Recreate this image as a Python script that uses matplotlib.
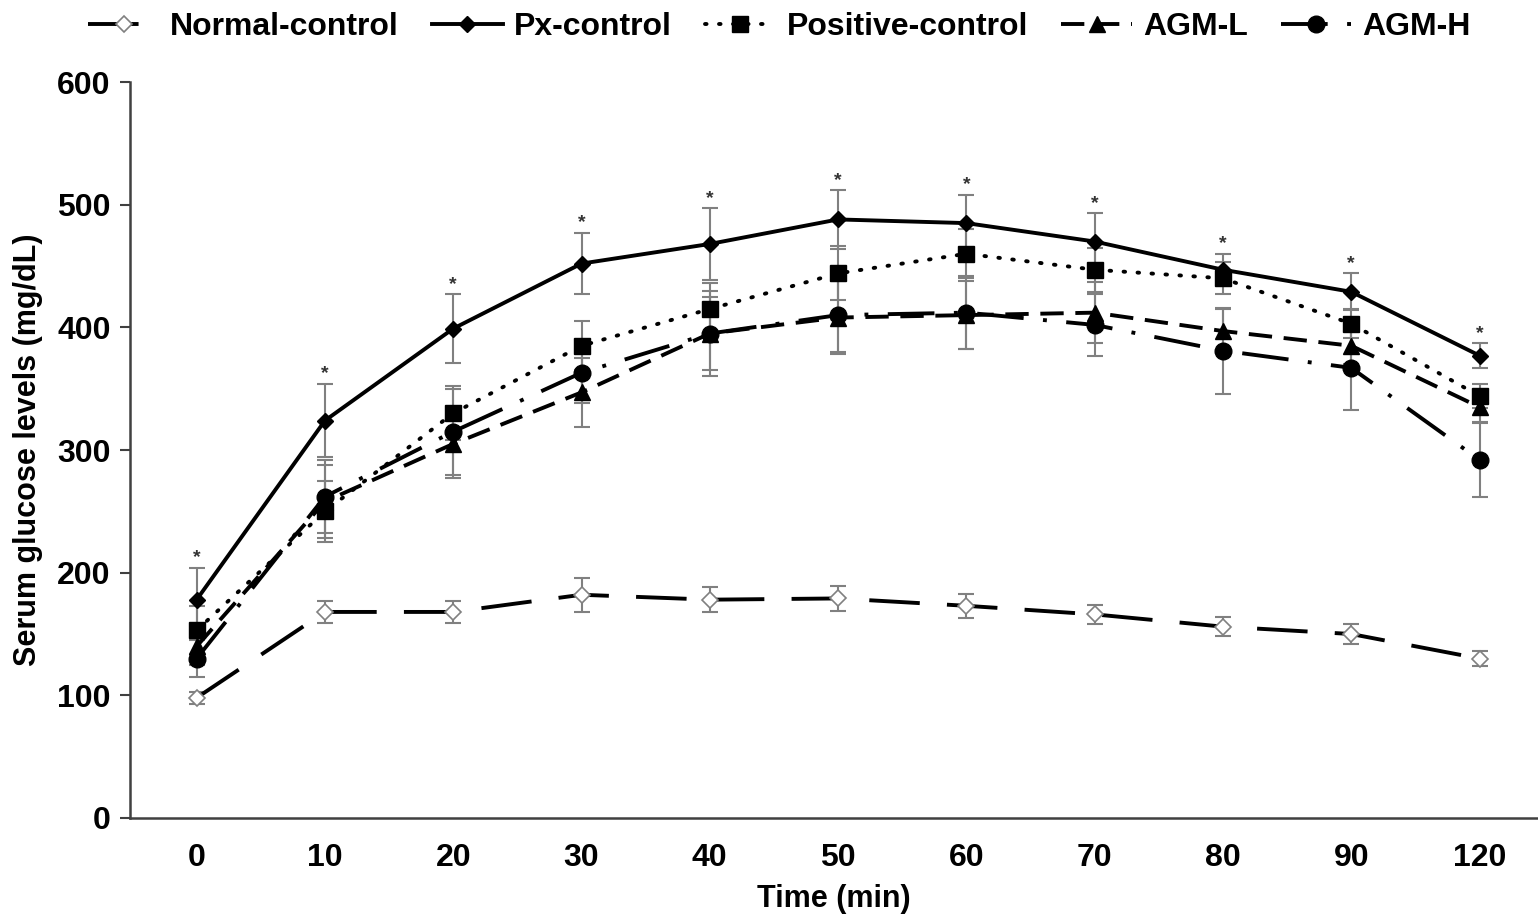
import numpy as np
import matplotlib.pyplot as plt

plt.rcParams['font.family'] = ['Liberation Sans', 'DejaVu Sans']
plt.rcParams['font.weight'] = 'bold'

time_labels = ['0', '10', '20', '30', '40', '50', '60', '70', '80', '90', '120']

normal = [98, 168, 168, 182, 178, 179, 173, 166, 156, 150, 130]
normal_err = [5, 9, 9, 14, 10, 10, 10, 8, 8, 8, 6]

px = [178, 324, 399, 452, 468, 488, 485, 470, 447, 429, 377]
px_err = [26, 30, 28, 25, 29, 24, 23, 23, 13, 15, 10]

pos = [153, 250, 330, 385, 415, 444, 460, 447, 440, 403, 344]
pos_err = [20, 25, 22, 20, 21, 22, 20, 18, 13, 12, 10]

agml = [140, 258, 305, 347, 395, 408, 410, 412, 397, 385, 335]
agml_err = [15, 30, 28, 28, 35, 30, 28, 25, 18, 15, 12]

agmh = [130, 262, 315, 363, 395, 410, 412, 402, 381, 367, 292]
agmh_err = [15, 30, 35, 25, 30, 30, 30, 25, 35, 34, 30]

x = np.arange(len(time_labels))

fig = plt.figure(figsize=(15.38, 9.22), dpi=100)
ax = fig.add_axes([0.0845, 0.1128, 0.915, 0.7982])

err_kw = dict(ecolor='#808080', elinewidth=1.5, capsize=6, capthick=1.5)

series = [
    ('Normal-control', normal, normal_err,
     dict(ls=(0, (13, 7)), marker='D', ms=8, mfc='white', mec='#808080', mew=1.2)),
    ('Px-control', px, px_err,
     dict(ls='-', marker='D', ms=8, mfc='black', mec='black')),
    ('Positive-control', pos, pos_err,
     dict(ls=(0, (0.4, 3.2)), dash_capstyle='round', marker='s', ms=12,
          mfc='black', mec='black')),
    ('AGM-L', agml, agml_err,
     dict(ls=(0, (6, 3)), marker='^', ms=11, mfc='black', mec='black')),
    ('AGM-H', agmh, agmh_err,
     dict(ls=(0, (12, 5, 1, 5)), marker='o', ms=12, mfc='black', mec='black')),
]

handles = []
for name, vals, errs, style in series:
    ax.errorbar(x, vals, yerr=errs, fmt='none', zorder=2, **err_kw)
    h, = ax.plot(x, vals, color='black', lw=2.8, label=name, zorder=3, **style)
    handles.append(h)

# significance marks above Px-control
for xi, v, e in zip(x, px, px_err):
    ax.annotate('*', (xi, v + e), xytext=(0, 1), textcoords='offset points',
                ha='center', va='bottom', fontsize=14, color='#333333')

ax.set_xlim(-0.52, 10.45)
ax.set_ylim(0, 600)
ax.set_yticks(range(0, 601, 100))
ax.set_xticks(x)
ax.set_xticklabels(time_labels)
ax.tick_params(axis='y', length=7, width=1.5, color='#404040', labelsize=23, pad=7)
ax.tick_params(axis='x', length=0, labelsize=23, pad=18)
for s in ['top', 'right']:
    ax.spines[s].set_visible(False)
for s in ['left', 'bottom']:
    ax.spines[s].set_color('#404040')
    ax.spines[s].set_linewidth(1.8)

ax.set_xlabel('Time (min)', fontsize=22, fontweight='bold', labelpad=8)
ax.set_ylabel('Serum glucose levels (mg/dL)', fontsize=22, fontweight='bold', labelpad=10)

fig.legend(handles=handles, loc='upper center', bbox_to_anchor=(0.507, 1.018), ncol=5,
           frameon=False, fontsize=23, handlelength=2.2, columnspacing=1.05,
           handletextpad=0.35)

fig.savefig('out.png', dpi=100)
